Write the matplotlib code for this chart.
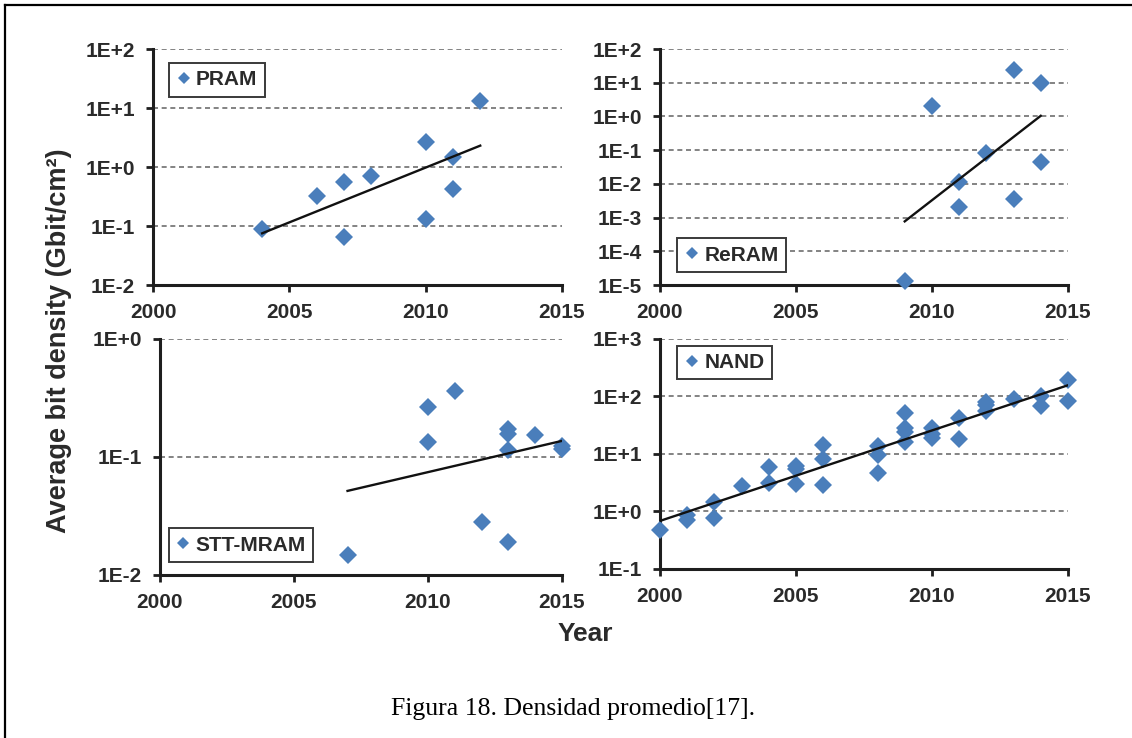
import numpy as np
import matplotlib.pyplot as plt
from matplotlib.lines import Line2D

plt.rcParams["font.family"] = ["Liberation Sans", "DejaVu Sans"]

BLUE = "#4a7ebb"
TEXT = "#2a2a2a"
AXIS = "#1e1e1e"

# Average bit density (Gbit/cm2) per year
pram_years = [2004, 2006, 2007, 2007, 2008, 2010, 2010, 2011, 2011, 2012]
pram_density = [0.088, 0.32, 0.55, 0.065, 0.70, 2.7, 0.13, 1.5, 0.42, 13.0]

reram_years = [2009, 2010, 2011, 2011, 2012, 2013, 2013, 2014, 2014]
reram_density = [1.3e-5, 2.0, 0.011, 0.0021, 0.085, 24.0, 0.0035, 9.8, 0.044]

stt_years = [2007, 2010, 2010, 2011, 2012, 2013, 2013, 2013, 2013, 2014, 2015, 2015]
stt_density = [0.0147, 0.265, 0.133, 0.36, 0.028, 0.172, 0.157, 0.115, 0.019,
               0.154, 0.123, 0.117]

nand_years = [2000, 2001, 2001, 2002, 2002, 2003, 2004, 2004, 2005, 2005, 2005,
              2006, 2006, 2006, 2008, 2008, 2008, 2009, 2009, 2009, 2009,
              2010, 2010, 2010, 2011, 2011, 2012, 2012, 2012, 2013, 2014, 2014,
              2015, 2015]
nand_density = [0.47, 0.86, 0.72, 1.46, 0.76, 2.77, 6.0, 3.16, 6.2, 5.4, 3.04,
                14.2, 8.1, 2.88, 13.8, 9.5, 4.6, 52, 28, 24, 16,
                28, 22, 19, 43, 18, 80, 70, 56, 90, 103, 67,
                190, 84]

year_ticks = [2000, 2005, 2010, 2015]

# name, years, values, (low exp, high exp), axes rect, legend loc, legend anchor
panels = [
    ("PRAM", pram_years, pram_density, (-2, 2),
     [0.1352, 0.6138, 0.3613, 0.3198], "upper left", (0.039, 0.941)),
    ("ReRAM", reram_years, reram_density, (-5, 2),
     [0.5830, 0.6138, 0.3604, 0.3198], "lower left", (0.042, 0.055)),
    ("STT-MRAM", stt_years, stt_density, (-2, 0),
     [0.1413, 0.2209, 0.3551, 0.3198], "lower left", (0.022, 0.055)),
    ("NAND", nand_years, nand_density, (-1, 3),
     [0.5830, 0.2290, 0.3604, 0.3117], "upper left", (0.042, 0.970)),
]

fig = plt.figure(figsize=(11.32, 7.38), dpi=100)

for name, years, dens, (lo, hi), rect, loc, anchor in panels:
    ax = fig.add_axes(rect)
    ax.set_yscale("log")
    ax.set_xlim(2000, 2015)
    ax.set_ylim(10.0 ** lo, 10.0 ** hi)

    ax.plot(years, dens, linestyle="none", marker="D", markersize=8.8,
            color=BLUE, markeredgewidth=0, clip_on=False, zorder=3)

    # exponential trendline (least squares on log10 values)
    coef = np.polyfit(years, np.log10(dens), 1)
    xs = np.array([min(years), max(years)])
    ax.plot(xs, 10 ** np.polyval(coef, xs), color="#111111", lw=1.7, zorder=4)

    exps = list(range(lo, hi + 1))
    ax.set_yticks([10.0 ** e for e in exps], [f"1E{e:+d}" for e in exps],
                  fontweight="bold")
    ax.set_xticks(year_ticks, [str(y) for y in year_ticks], fontweight="bold")
    ax.yaxis.set_minor_locator(plt.NullLocator())

    ax.tick_params(direction="out", length=5, width=2.0, color=AXIS,
                   labelsize=15, labelcolor=TEXT, pad=8)
    for side in ("top", "right"):
        ax.spines[side].set_visible(False)
    for side in ("left", "bottom"):
        ax.spines[side].set_linewidth(2.2)
        ax.spines[side].set_color(AXIS)

    ax.yaxis.grid(True, linestyle=(0, (3.0, 2.2)), color="#6e6e6e", lw=1.2)
    ax.set_axisbelow(True)

    handle = Line2D([], [], linestyle="none", marker="D", markersize=6,
                    color=BLUE, markeredgewidth=0)
    leg = ax.legend([handle], [name], loc=loc, bbox_to_anchor=anchor,
                    borderaxespad=0, fancybox=False, framealpha=1,
                    edgecolor="#3a3a3a", handlelength=0.7, handletextpad=0.25,
                    borderpad=0.35, prop={"weight": "bold", "size": 15})
    leg.get_frame().set_linewidth(1.4)
    for t in leg.get_texts():
        t.set_color(TEXT)

fig.text(0.052, 0.539, "Average bit density (Gbit/cm²)", rotation=90,
         ha="center", va="center", fontsize=19.5, fontweight="bold", color=TEXT)
fig.text(0.517, 0.141, "Year", ha="center", va="center", fontsize=19,
         fontweight="bold", color=TEXT)
fig.text(0.506, 0.039, "Figura 18. Densidad promedio[17].", ha="center",
         va="center", fontsize=18.5, family=["Liberation Serif", "DejaVu Serif"],
         color="black")

# page frame (left and top edges)
W, H = 1132, 738
frame_kw = dict(color="black", lw=1.6, transform=fig.transFigure)
fig.add_artist(Line2D([5 / W, 5 / W], [0, 1 - 5 / H], **frame_kw))
fig.add_artist(Line2D([5 / W, 1], [1 - 5 / H, 1 - 5 / H], **frame_kw))

fig.savefig("out.png", dpi=100)
